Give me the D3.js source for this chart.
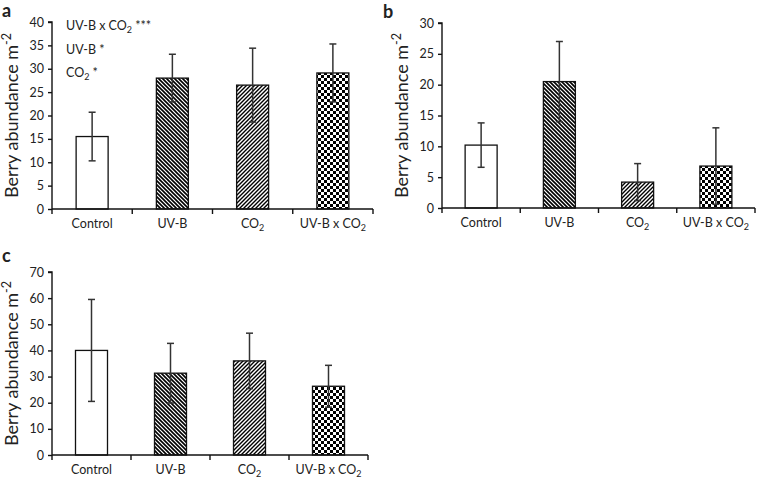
<!DOCTYPE html>
<html>
<head>
<meta charset="utf-8">
<title>Berry abundance</title>
<script src="https://cdn.jsdelivr.net/npm/d3@7/dist/d3.min.js"></script>
<style>
  body { margin: 0; background: #fff; }
  text { font-family: Lato, "Open Sans", sans-serif; fill: #222; }
</style>
</head>
<body>
<svg id="fig" width="758" height="483"></svg>
<script>
const categories = ["Control", "UV-B", "CO2", "UV-B x CO2"]

// means and symmetric errors
const meansA = [15.5, 28, 26.5, 29.1]
const errA = [5.2, 5.1, 7.9, 6.2]
const meansB = [10.2, 20.5, 4.2, 6.8]
const errB = [3.6, 6.5, 3.0, 6.2]
const meansC = [40, 31.3, 36, 26.3]
const errC = [19.5, 11.4, 10.6, 8]

const ticksA = [0, 5, 10, 15, 20, 25, 30, 35, 40]
const ticksB = [0, 5, 10, 15, 20, 25, 30]
const ticksC = [0, 10, 20, 30, 40, 50, 60, 70]

const fills = ["#fff", "url(#back)", "url(#fwd)", "url(#check)"]

const svg = d3.select("#fig")
const defs = svg.append("defs")

// "\" stripes
let p = defs.append("pattern").attr("id", "back")
    .attr("width", 4).attr("height", 4).attr("patternUnits", "userSpaceOnUse")
p.append("rect").attr("width", 4).attr("height", 4).attr("fill", "#fff")
p.append("path").attr("d", "M-1,-1 L5,5 M-1,3 L1,5 M3,-1 L5,1")
    .attr("stroke", "#000").attr("stroke-width", 1.6)

// "/" stripes
p = defs.append("pattern").attr("id", "fwd")
    .attr("width", 4).attr("height", 4).attr("patternUnits", "userSpaceOnUse")
p.append("rect").attr("width", 4).attr("height", 4).attr("fill", "#fff")
p.append("path").attr("d", "M-1,5 L5,-1 M-1,1 L1,-1 M3,5 L5,3")
    .attr("stroke", "#000").attr("stroke-width", 1.4)

// checkerboard
p = defs.append("pattern").attr("id", "check")
    .attr("width", 6).attr("height", 6).attr("patternUnits", "userSpaceOnUse")
p.append("rect").attr("width", 6).attr("height", 6).attr("fill", "#fff")
p.append("rect").attr("width", 3).attr("height", 3).attr("fill", "#000")
p.append("rect").attr("x", 3).attr("y", 3).attr("width", 3).attr("height", 3).attr("fill", "#000")

function catLabel(sel, name) {
    if (name.indexOf("CO2") >= 0) {
        const t = name.replace("CO2", "CO")
        sel.text(null)
        sel.append("tspan").text(t)
        sel.append("tspan").attr("font-size", "0.72em").attr("dy", 3).text("2")
    } else {
        sel.text(name)
    }
}

function drawPanel(o) {
    const g = svg.append("g")
    const x = d3.scaleBand().domain(categories).range([o.x0, o.x1])
    const y = d3.scaleLinear().domain([0, o.max]).range([o.y0, o.y1])
    const bw = 32

    // bars
    g.selectAll("rect.bar")
        .data(o.means)
        .enter().append("rect")
        .attr("class", "bar")
        .attr("x", (d, i) => x(categories[i]) + x.bandwidth() / 2 - bw / 2)
        .attr("y", d => y(d))
        .attr("width", bw)
        .attr("height", d => o.y0 - y(d))
        .attr("fill", (d, i) => fills[i])
        .attr("stroke", "#111")
        .attr("stroke-width", 1.3)

    // error bars
    const eb = g.selectAll("g.err")
        .data(o.means.map((d, i) => ({ c: categories[i], m: d, e: o.err[i] })))
        .enter().append("g")
    eb.append("line")
        .attr("x1", d => x(d.c) + x.bandwidth() / 2)
        .attr("x2", d => x(d.c) + x.bandwidth() / 2)
        .attr("y1", d => y(d.m + d.e))
        .attr("y2", d => y(Math.max(0, d.m - d.e)))
        .attr("stroke", "#333").attr("stroke-width", 1.5)
    eb.append("line")
        .attr("x1", d => x(d.c) + x.bandwidth() / 2 - 3.5)
        .attr("x2", d => x(d.c) + x.bandwidth() / 2 + 3.5)
        .attr("y1", d => y(d.m + d.e))
        .attr("y2", d => y(d.m + d.e))
        .attr("stroke", "#333").attr("stroke-width", 1.5)
    eb.append("line")
        .attr("x1", d => x(d.c) + x.bandwidth() / 2 - 3.5)
        .attr("x2", d => x(d.c) + x.bandwidth() / 2 + 3.5)
        .attr("y1", d => y(Math.max(0, d.m - d.e)))
        .attr("y2", d => y(Math.max(0, d.m - d.e)))
        .attr("stroke", "#333").attr("stroke-width", 1.5)

    // y axis
    const ya = g.append("g")
        .attr("transform", `translate(${o.x0},0)`)
        .call(d3.axisLeft(y).tickValues(o.ticks).tickSize(4).tickPadding(4))
    ya.select(".domain").attr("stroke", "#111").attr("stroke-width", 1.4).attr("d", `M-4,${o.y1}H0V${o.y0}`)
    ya.selectAll(".tick line").attr("stroke", "#111").attr("stroke-width", 1.4)
    ya.selectAll(".tick text").attr("font-size", 12.5).attr("font-family", "Lato, sans-serif").attr("fill", "#333")

    // x axis, ticks at category boundaries
    const xa = g.append("g").attr("transform", `translate(0,${o.y0})`)
    xa.append("line").attr("x1", o.x0).attr("x2", o.x1)
        .attr("stroke", "#111").attr("stroke-width", 1.6)
    xa.selectAll("line.tk")
        .data(categories.map(c => x(c)).concat([o.x1]))
        .enter().append("line")
        .attr("x1", d => d).attr("x2", d => d)
        .attr("y1", 0).attr("y2", 5)
        .attr("stroke", "#111").attr("stroke-width", 1.4)
    xa.selectAll("text.cat")
        .data(categories)
        .enter().append("text")
        .attr("x", d => x(d) + x.bandwidth() / 2)
        .attr("y", 19)
        .attr("text-anchor", "middle")
        .attr("font-size", 12.5)
        .attr("fill", "#333")
        .each(function (d) { catLabel(d3.select(this), d) })

    // y axis title
    const t = g.append("text")
        .attr("transform", `translate(${o.x0 - 34},${(o.y0 + o.y1) / 2}) rotate(-90)`)
        .attr("text-anchor", "middle")
        .attr("font-size", 18)
        .attr("fill", "#333")
    t.append("tspan").text("Berry abundance m")
    t.append("tspan").attr("font-size", "0.7em").attr("dy", -7).text("-2")

    // panel letter
    g.append("text")
        .attr("x", o.lx).attr("y", o.ly)
        .attr("font-family", "Liberation Sans, Arial, sans-serif")
        .attr("font-weight", "bold").attr("font-size", 18)
        .attr("fill", "#111")
        .text(o.letter)
}

drawPanel({ x0: 52, x1: 373, y0: 209, y1: 22, max: 40, means: meansA, err: errA, ticks: ticksA, letter: "a", lx: 2, ly: 17 })
drawPanel({ x0: 442, x1: 755, y0: 208, y1: 23, max: 30, means: meansB, err: errB, ticks: ticksB, letter: "b", lx: 383, ly: 18 })
drawPanel({ x0: 52, x1: 368, y0: 455, y1: 272, max: 70, means: meansC, err: errC, ticks: ticksC, letter: "c", lx: 2, ly: 262 })

// significance notes in panel a
const notes = [["UV-B x CO", "2", " ***"], ["UV-B *"], ["CO", "2", " *"]]
svg.selectAll("text.note")
    .data(notes)
    .enter().append("text")
    .attr("x", 66)
    .attr("y", (d, i) => 30 + i * 23.5)
    .attr("font-size", 12.5)
    .attr("fill", "#333")
    .each(function (d) {
        const s = d3.select(this)
        s.append("tspan").text(d[0])
        if (d.length > 1) {
            s.append("tspan").attr("font-size", "0.72em").attr("dy", 3).text(d[1])
            s.append("tspan").attr("dy", -3).text(d[2])
        }
    })
</script>
</body>
</html>
